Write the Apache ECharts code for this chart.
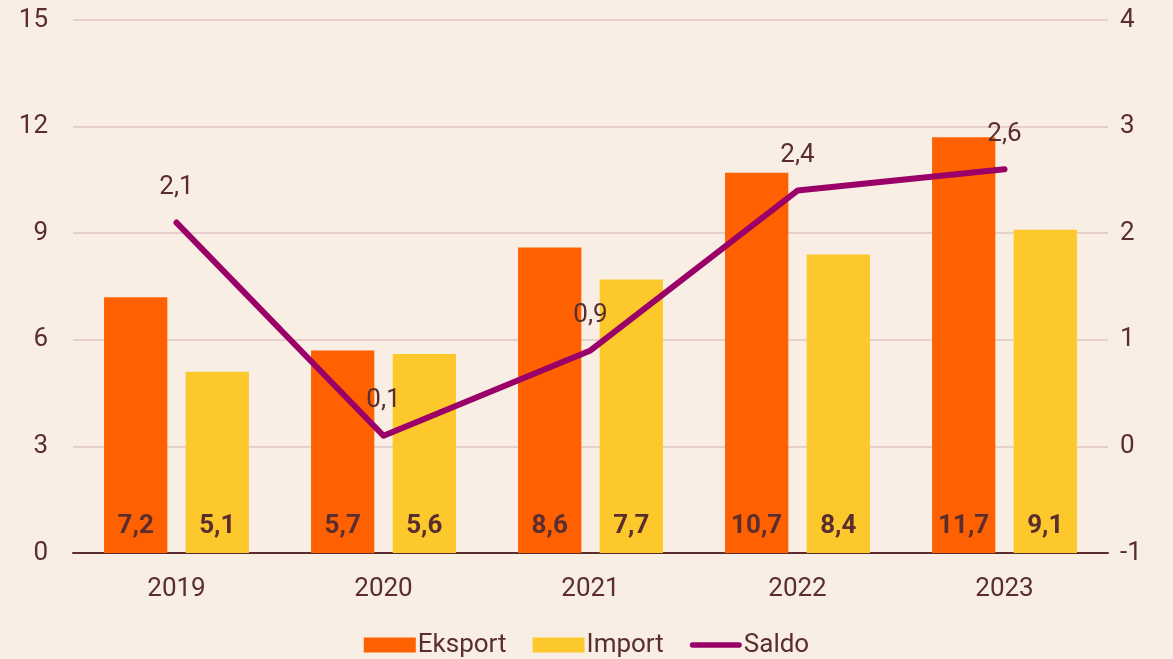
<!DOCTYPE html>
<html>
<head>
<meta charset="utf-8">
<script src="https://cdn.jsdelivr.net/npm/echarts@6/dist/echarts.min.js"></script>
<style>
  html, body { margin: 0; padding: 0; background: #f9eee4; }
  #chart { width: 1173px; height: 659px; }
</style>
</head>
<body>
<div id="chart"></div>
<script>
// dane
var years = ['2019', '2020', '2021', '2022', '2023']
var eksport = [7.2, 5.7, 8.6, 10.7, 11.7]
var importData = [5.1, 5.6, 7.7, 8.4, 9.1]
var saldo = [2.1, 0.1, 0.9, 2.4, 2.6]

var textColor = '#5a2e2e'
var fmt = function (v) { return String(v.toFixed(1)).replace('.', ',') }

var chart = echarts.init(document.getElementById('chart'))
chart.setOption({
  backgroundColor: '#f9eee4',
  textStyle: { fontFamily: 'Roboto', color: textColor },
  animation: false,
  grid: { left: 73, right: 65, top: 20, bottom: 106 },
  legend: {
    top: 627,
    left: 'center',
    itemWidth: 52,
    itemHeight: 15,
    itemGap: 26,
    textStyle: { fontSize: 26, color: textColor, padding: [0, 0, 0, -3] },
    data: [
      { name: 'Eksport', icon: 'rect' },
      { name: 'Import', icon: 'rect' },
      { name: 'Saldo', icon: 'path://M3,0 L53,0 A3,3 0 0 1 53,6 L3,6 A3,3 0 0 1 3,0 Z' }
    ]
  },
  xAxis: {
    type: 'category',
    data: years,
    axisLine: { lineStyle: { color: textColor, width: 2 } },
    axisTick: { show: false },
    axisLabel: { fontSize: 26, color: textColor, margin: 23 }
  },
  yAxis: [
    {
      type: 'value', min: 0, max: 15, interval: 3,
      axisLabel: { fontSize: 26, color: textColor, margin: 25 },
      splitLine: { lineStyle: { color: '#e6cfcd', width: 2 } },
      axisLine: { show: false }, axisTick: { show: false }
    },
    {
      type: 'value', min: -1, max: 4, interval: 1,
      axisLabel: { fontSize: 26, color: textColor, margin: 12 },
      splitLine: { show: false },
      axisLine: { show: false }, axisTick: { show: false }
    }
  ],
  series: [
    {
      name: 'Eksport', type: 'bar', data: eksport,
      barGap: '29%', barCategoryGap: '30%',
      itemStyle: { color: '#ff6000' },
      label: {
        show: true, position: 'insideBottom', distance: 14,
        fontSize: 26, fontWeight: 'bold', color: textColor,
        formatter: function (p) { return fmt(p.value) }
      }
    },
    {
      name: 'Import', type: 'bar', data: importData,
      itemStyle: { color: '#fdc82c' },
      label: {
        show: true, position: 'insideBottom', distance: 14,
        fontSize: 26, fontWeight: 'bold', color: textColor,
        formatter: function (p) { return fmt(p.value) }
      }
    },
    {
      name: 'Saldo', type: 'line', yAxisIndex: 1, data: saldo,
      symbol: 'circle', symbolSize: 0,
      lineStyle: { color: '#9b0068', width: 6, cap: 'round', join: 'round' },
      itemStyle: { color: '#9b0068' },
      label: {
        show: true, position: 'top', distance: 22,
        fontSize: 26, color: textColor,
        formatter: function (p) { return fmt(p.value) }
      }
    }
  ]
})
</script>
</body>
</html>
